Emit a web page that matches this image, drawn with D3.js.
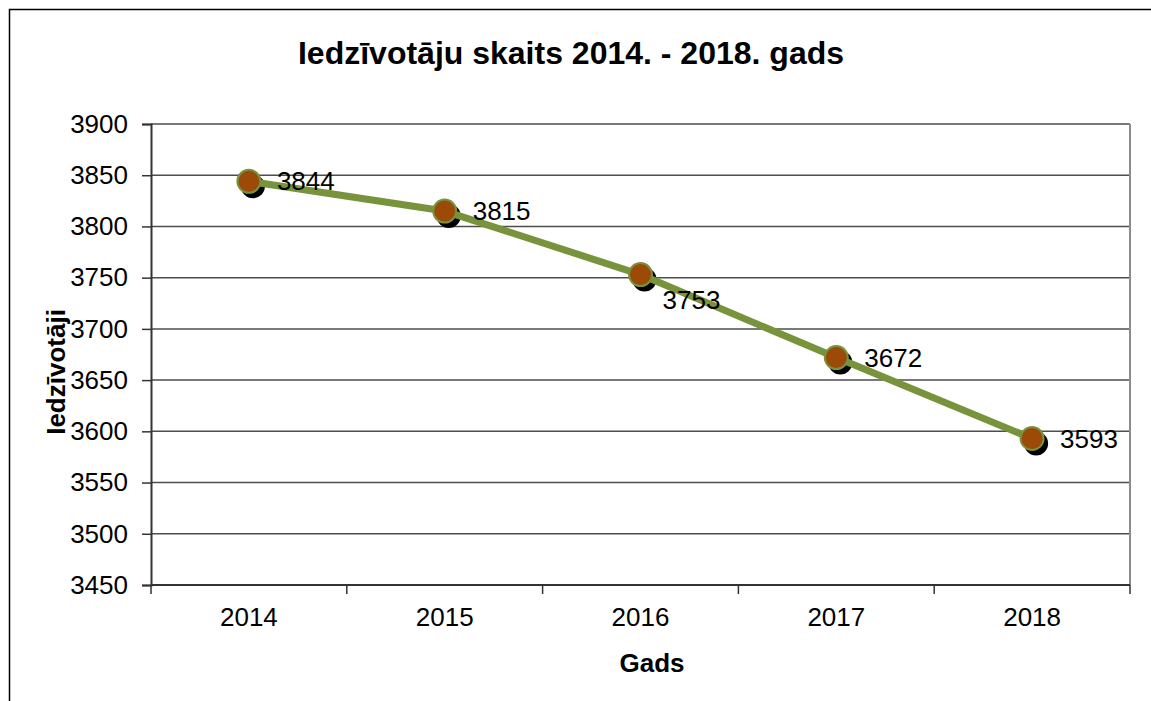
<!DOCTYPE html>
<html>
<head>
<meta charset="utf-8">
<script src="https://cdn.jsdelivr.net/npm/d3@7"></script>
<style>
    body { margin: 0; background: #fff; }
    text { font-family: "Liberation Sans", Arial, sans-serif; fill: #000; }
</style>
</head>
<body>
<div id="chart"></div>
<script>
// data
const years = ['2014', '2015', '2016', '2017', '2018'];
const residents = [3844, 3815, 3753, 3672, 3593];
const yTicks = [3450, 3500, 3550, 3600, 3650, 3700, 3750, 3800, 3850, 3900];

// label nudges (Excel moved 3753 below the line)
const labelDx = [28, 28, 22, 28, 28];
const labelDy = [0, 0, 25, 0, 0];

const W = 1151, H = 701;
const plot = { left: 151, right: 1130, top: 124, bottom: 585 };

const svg = d3.select('#chart')
    .append('svg')
    .attr('width', W)
    .attr('height', H);

// outer chart border (only top and left are inside the picture)
svg.append('path')
    .attr('d', `M9.5,${H} L9.5,9.5 L${W},9.5`)
    .attr('fill', 'none')
    .attr('stroke', '#000')
    .attr('stroke-width', 1.5);

const x = d3.scaleBand()
    .domain(years)
    .range([plot.left, plot.right]);

const y = d3.scaleLinear()
    .domain([3450, 3900])
    .range([plot.bottom, plot.top]);

// gridlines
svg.append('g')
    .selectAll('line')
    .data(yTicks)
    .enter().append('line')
    .attr('x1', plot.left)
    .attr('x2', plot.right)
    .attr('y1', d => y(d))
    .attr('y2', d => y(d))
    .attr('stroke', '#4d4d4d')
    .attr('stroke-width', 1.5);

// right plot border
svg.append('line')
    .attr('x1', plot.right).attr('x2', plot.right)
    .attr('y1', plot.top).attr('y2', plot.bottom)
    .attr('stroke', '#8c8c8c')
    .attr('stroke-width', 2);

// y axis
const yAxis = svg.append('g')
    .attr('transform', `translate(${plot.left},0)`)
    .call(d3.axisLeft(y).tickValues(yTicks).tickSize(9).tickPadding(14).tickFormat(d3.format('d')));
yAxis.select('.domain').attr('stroke', '#333').attr('stroke-width', 2);
yAxis.selectAll('.tick line').attr('stroke', '#333').attr('stroke-width', 1.5);
yAxis.selectAll('text')
    .style('font-size', '26px')
    .attr('fill', '#000');

// x axis: ticks between categories
const xBounds = years.map(d => x(d)).concat([plot.right]);
svg.append('line')
    .attr('x1', plot.left).attr('x2', plot.right)
    .attr('y1', plot.bottom).attr('y2', plot.bottom)
    .attr('stroke', '#333').attr('stroke-width', 2);
svg.append('g')
    .selectAll('line')
    .data(xBounds)
    .enter().append('line')
    .attr('x1', d => d).attr('x2', d => d)
    .attr('y1', plot.bottom).attr('y2', plot.bottom + 9)
    .attr('stroke', '#333').attr('stroke-width', 1.5);
svg.append('g')
    .selectAll('text')
    .data(years)
    .enter().append('text')
    .attr('x', d => x(d) + x.bandwidth() / 2)
    .attr('y', 626)
    .attr('text-anchor', 'middle')
    .style('font-size', '26px')
    .text(d => d);

// titles
svg.append('text')
    .attr('x', 571)
    .attr('y', 64)
    .attr('text-anchor', 'middle')
    .style('font-size', '32px')
    .style('font-weight', 'bold')
    .text('Iedzīvotāju skaits 2014. - 2018. gads');

svg.append('text')
    .attr('x', 652)
    .attr('y', 672)
    .attr('text-anchor', 'middle')
    .style('font-size', '26px')
    .style('font-weight', 'bold')
    .text('Gads');

svg.append('text')
    .attr('transform', 'translate(65,372) rotate(-90)')
    .attr('text-anchor', 'middle')
    .style('font-size', '26px')
    .style('font-weight', 'bold')
    .text('Iedzīvotāji');

// series
const pts = years.map((d, i) => ({ year: d, value: residents[i], i: i }));
const cx = d => x(d.year) + x.bandwidth() / 2;

svg.append('g')
    .selectAll('circle')
    .data(pts)
    .enter().append('circle')
    .attr('cx', d => cx(d) + 4)
    .attr('cy', d => y(d.value) + 5)
    .attr('r', 12)
    .attr('fill', '#000');

svg.append('path')
    .datum(pts)
    .attr('fill', 'none')
    .attr('stroke', '#77933c')
    .attr('stroke-width', 7)
    .attr('stroke-linejoin', 'round')
    .attr('d', d3.line().x(cx).y(d => y(d.value)));

svg.append('g')
    .selectAll('circle')
    .data(pts)
    .enter().append('circle')
    .attr('cx', cx)
    .attr('cy', d => y(d.value))
    .attr('r', 11.5)
    .attr('fill', '#9c4a08')
    .attr('stroke', '#77933c')
    .attr('stroke-width', 2);

svg.append('g')
    .selectAll('text')
    .data(pts)
    .enter().append('text')
    .attr('x', d => cx(d) + labelDx[d.i])
    .attr('y', d => y(d.value) + labelDy[d.i])
    .attr('dy', '0.35em')
    .style('font-size', '26px')
    .text(d => d.value);
</script>
</body>
</html>
